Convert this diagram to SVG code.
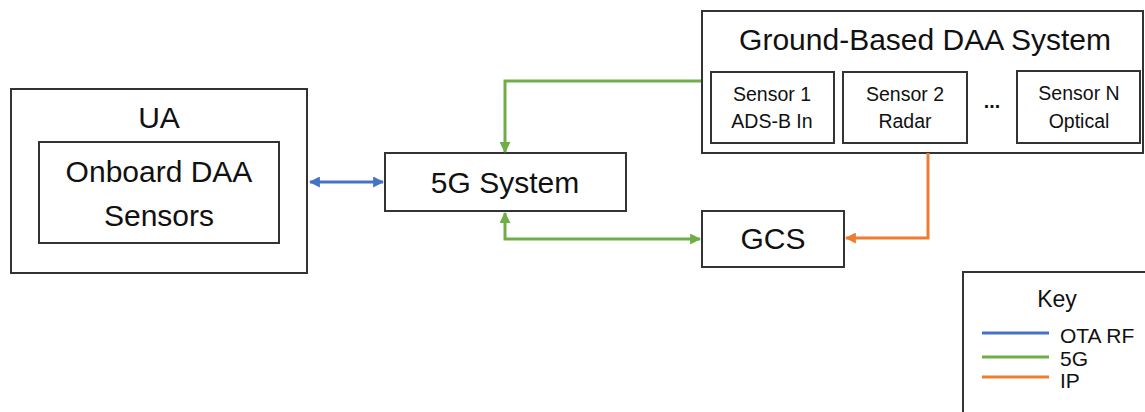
<svg xmlns="http://www.w3.org/2000/svg" width="1145" height="412" viewBox="0 0 1145 412">
<style>
.box{fill:#fff;stroke:#333;stroke-width:2}
.t{font-family:"Liberation Sans",Arial,sans-serif;fill:#111;text-anchor:middle}
.big{font-size:30px}
.sm{font-size:19.5px}
.key{font-size:21px;text-anchor:start}
.c{fill:none;stroke-width:3}
.blue{stroke:#4472C4}
.green{stroke:#70AD47}
.orange{stroke:#ED7D31}
</style>
<defs>
<marker id="ab" viewBox="0 0 10 10" refX="9" refY="5" markerWidth="11" markerHeight="11" markerUnits="userSpaceOnUse" orient="auto-start-reverse"><path d="M0,0 L10,5 L0,10 z" fill="#4472C4"/></marker>
<marker id="ag" viewBox="0 0 10 10" refX="9" refY="5" markerWidth="11" markerHeight="11" markerUnits="userSpaceOnUse" orient="auto-start-reverse"><path d="M0,0 L10,5 L0,10 z" fill="#70AD47"/></marker>
<marker id="ao" viewBox="0 0 10 10" refX="9" refY="5" markerWidth="11" markerHeight="11" markerUnits="userSpaceOnUse" orient="auto-start-reverse"><path d="M0,0 L10,5 L0,10 z" fill="#ED7D31"/></marker>
</defs>
<rect width="1145" height="412" fill="#fff"/>
<g id="ua">
<rect class="box" x="11" y="89" width="296" height="184"/>
<text class="t big" x="159" y="128">UA</text>
</g>
<g id="onboard">
<rect class="box" x="39" y="142" width="240" height="101"/>
<text class="t big" x="159" y="182">Onboard DAA</text>
<text class="t big" x="159" y="226">Sensors</text>
</g>
<g id="fiveg">
<rect class="box" x="385" y="153" width="241" height="58"/>
<text class="t big" x="505" y="193">5G System</text>
</g>
<g id="gcs">
<rect class="box" x="702" y="211" width="142" height="56"/>
<text class="t big" x="773" y="249">GCS</text>
</g>
<g id="ground">
<rect class="box" x="702" y="11" width="441" height="142"/>
<text class="t big" x="925" y="50">Ground-Based DAA System</text>
<text class="t sm" x="992" y="108" style="font-weight:bold">...</text>
</g>
<g id="sensor1">
<rect class="box" x="711" y="72" width="123" height="71"/>
<text class="t sm" x="772" y="101">Sensor 1</text>
<text class="t sm" x="772" y="128">ADS-B In</text>
</g>
<g id="sensor2">
<rect class="box" x="843" y="72" width="124" height="71"/>
<text class="t sm" x="905" y="101">Sensor 2</text>
<text class="t sm" x="905" y="128">Radar</text>
</g>
<g id="sensorN">
<rect class="box" x="1017" y="71" width="123" height="72"/>
<text class="t sm" x="1079" y="100">Sensor N</text>
<text class="t sm" x="1079" y="128">Optical</text>
</g>
<g id="key">
<rect class="box" x="963" y="272" width="190" height="150"/>
<text class="t" x="1057" y="307" style="font-size:23px">Key</text>
<line class="c blue" x1="982" y1="333" x2="1049" y2="333"/>
<line class="c green" x1="982" y1="357" x2="1049" y2="357"/>
<line class="c orange" x1="982" y1="377" x2="1049" y2="377"/>
<text class="t key" x="1060" y="343">OTA RF</text>
<text class="t key" x="1060" y="366">5G</text>
<text class="t key" x="1060" y="388">IP</text>
</g>
<g id="connectors">
<line class="c blue" x1="310" y1="182" x2="383" y2="182" marker-start="url(#ab)" marker-end="url(#ab)"/>
<path class="c green" d="M701,81 H505 V152" marker-end="url(#ag)"/>
<path class="c green" d="M505,213 V239 H700" marker-start="url(#ag)" marker-end="url(#ag)"/>
<path class="c orange" d="M928,153 V238 H846" marker-end="url(#ao)"/>
</g>
</svg>
